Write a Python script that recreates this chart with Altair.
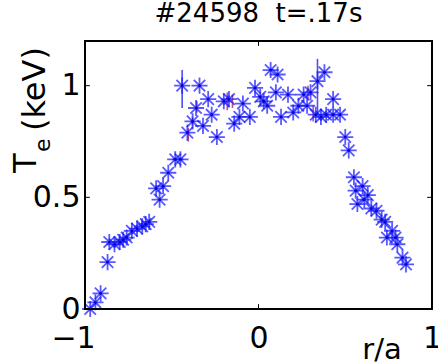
import altair as alt
import pandas as pd

# ---- data ----
r_a = [-0.97, -0.94, -0.91, -0.87, -0.86, -0.83, -0.80, -0.78, -0.76, -0.73,
       -0.70, -0.67, -0.65, -0.63, -0.59, -0.57, -0.55, -0.52, -0.48, -0.45,
       -0.44, -0.41, -0.38, -0.36, -0.34, -0.32, -0.29, -0.27, -0.24, -0.20,
       -0.17, -0.14, -0.11, -0.09, -0.05, -0.02, 0.01, 0.03, 0.05, 0.07,
       0.11, 0.10, 0.13, 0.17, 0.20, 0.23, 0.26, 0.28, 0.30, 0.34,
       0.38, 0.33, 0.36, 0.39, 0.43, 0.43, 0.47, 0.50, 0.52, 0.55,
       0.60, 0.56, 0.63, 0.57, 0.61, 0.65, 0.68, 0.71, 0.73, 0.77,
       0.74, 0.79, 0.80, 0.83, 0.85]
te_kev = [0.00, 0.03, 0.07, 0.21, 0.30, 0.29, 0.30, 0.31, 0.32, 0.35,
          0.36, 0.37, 0.38, 0.39, 0.54, 0.49, 0.55, 0.61, 0.67, 0.67,
          1.00, 0.79, 0.84, 0.90, 1.00, 0.82, 0.94, 0.87, 0.77, 0.93,
          0.94, 0.83, 0.86, 0.92, 0.86, 0.99, 0.95, 0.93, 0.91, 1.07,
          1.05, 0.97, 0.86, 0.96, 0.88, 0.91, 0.96, 0.91, 0.97, 1.02,
          1.06, 0.87, 0.86, 0.87, 0.94, 0.87, 0.87, 0.77, 0.71, 0.59,
          0.55, 0.53, 0.51, 0.47, 0.49, 0.45, 0.44, 0.40, 0.39, 0.35,
          0.32, 0.32, 0.29, 0.23, 0.20]

err_blue_x = [-0.44, 0.34]
err_blue_lo = [0.90, 0.87]
err_blue_hi = [1.07, 1.12]

err_red_x = [-0.405, -0.38, -0.355, -0.18, -0.15, 0.285, 0.315]
err_red_lo = [0.75, 0.82, 0.88, 0.89, 0.90, 0.94, 0.84]
err_red_hi = [0.81, 0.86, 0.93, 0.97, 0.96, 1.00, 0.91]

x_tick_values = [-1, 0, 1]
y_tick_values = [0, 0.5, 1]

title_text = "#24598\u00a0\u00a0t=.17s"
x_label = "r/a"

# ---- chart ----
FONT = "DejaVu Sans"
X_DOM = [-1, 1]
Y_DOM = [0, 1.2]
W, H = 347, 268

pts = pd.DataFrame({"r": r_a, "te": te_kev})
eb_blue = pd.DataFrame({"r": err_blue_x, "lo": err_blue_lo, "hi": err_blue_hi})
eb_red = pd.DataFrame({"r": err_red_x, "lo": err_red_lo, "hi": err_red_hi})

xs = alt.Scale(domain=X_DOM, nice=False, zero=False)
ys = alt.Scale(domain=Y_DOM, nice=False, zero=False)

x_axis = alt.Axis(values=x_tick_values, ticks=False, grid=False, domain=False,
                  labelFont=FONT, labelFontSize=30, labelColor="black",
                  labelPadding=14, labelFlush=False, labelBound=False,
                  labelOffset={"condition": {"test": "datum.value < 0", "value": -12}, "value": 0},
                  format="~g", title=None)
y_axis = alt.Axis(values=y_tick_values, ticks=False, grid=False, domain=False,
                  labelFont=FONT, labelFontSize=30, labelColor="black",
                  labelPadding=5, labelFlush=False, labelBound=False,
                  format="~g", title=None)

STAR = ("M-1,0L1,0M0,-1L0,1M-0.7071,-0.7071L0.7071,0.7071"
        "M-0.7071,0.7071L0.7071,-0.7071")

blue_err = alt.Chart(eb_blue).mark_rule(color="#2020ff", strokeWidth=1.6, opacity=0.8).encode(
    x=alt.X("r:Q", scale=xs, axis=x_axis),
    y=alt.Y("lo:Q", scale=ys, axis=y_axis),
    y2="hi:Q",
)
red_err = alt.Chart(eb_red).mark_rule(color="#b8306a", strokeWidth=1.6, opacity=0.85).encode(
    x=alt.X("r:Q", scale=xs),
    y=alt.Y("lo:Q", scale=ys),
    y2="hi:Q",
)
stars = alt.Chart(pts).mark_point(
    shape=STAR, size=260, filled=False, color="#1a1aff", strokeWidth=1.8, opacity=0.72
).encode(
    x=alt.X("r:Q", scale=xs),
    y=alt.Y("te:Q", scale=ys),
)
centers = alt.Chart(pts).mark_circle(size=10, color="#0000cc", opacity=0.9).encode(
    x=alt.X("r:Q", scale=xs),
    y=alt.Y("te:Q", scale=ys),
)

# axes box (frame) drawn from the scale domains
frame_h = pd.DataFrame({"y": Y_DOM, "x0": [X_DOM[0]] * 2, "x1": [X_DOM[1]] * 2})
frame_v = pd.DataFrame({"x": X_DOM, "y0": [Y_DOM[0]] * 2, "y1": [Y_DOM[1]] * 2})
frame1 = alt.Chart(frame_h).mark_rule(color="black", strokeWidth=2, strokeCap="square").encode(
    y=alt.Y("y:Q", scale=ys), x=alt.X("x0:Q", scale=xs), x2="x1:Q")
frame2 = alt.Chart(frame_v).mark_rule(color="black", strokeWidth=2, strokeCap="square").encode(
    x=alt.X("x:Q", scale=xs), y=alt.Y("y0:Q", scale=ys), y2="y1:Q")

# inward tick marks (MATLAB style)
tl_x = 0.018 * (Y_DOM[1] - Y_DOM[0])
tl_y = 0.014 * (X_DOM[1] - X_DOM[0])
xt = pd.DataFrame({"v": x_tick_values * 2,
                   "a": [Y_DOM[0]] * 3 + [Y_DOM[1]] * 3,
                   "b": [Y_DOM[0] + tl_x] * 3 + [Y_DOM[1] - tl_x] * 3})
yt = pd.DataFrame({"v": y_tick_values * 2,
                   "a": [X_DOM[0]] * 3 + [X_DOM[1]] * 3,
                   "b": [X_DOM[0] + tl_y] * 3 + [X_DOM[1] - tl_y] * 3})
xticks = alt.Chart(xt).mark_rule(color="black", strokeWidth=1).encode(
    x=alt.X("v:Q", scale=xs), y=alt.Y("a:Q", scale=ys), y2="b:Q")
yticks = alt.Chart(yt).mark_rule(color="black", strokeWidth=1).encode(
    y=alt.Y("v:Q", scale=ys), x=alt.X("a:Q", scale=xs), x2="b:Q")

one = pd.DataFrame({"k": [0]})
ylab_T = alt.Chart(one).mark_text(text="T", font=FONT, fontSize=32, angle=270,
                                  align="left", baseline="alphabetic", color="black").encode(
    x=alt.value(-49), y=alt.value(132))
ylab_e = alt.Chart(one).mark_text(text="e", font=FONT, fontSize=22, angle=270,
                                  align="left", baseline="alphabetic", color="black").encode(
    x=alt.value(-35), y=alt.value(111))
ylab_kev = alt.Chart(one).mark_text(text="(keV)", font=FONT, fontSize=32, angle=270,
                                    align="left", baseline="alphabetic", color="black").encode(
    x=alt.value(-40), y=alt.value(90))
xlab = alt.Chart(one).mark_text(text=x_label, font=FONT, fontSize=29,
                                align="center", baseline="alphabetic", color="black").encode(
    x=alt.value(297), y=alt.value(318))
title = alt.Chart(one).mark_text(text=title_text, font=FONT, fontSize=26,
                                 align="center", baseline="alphabetic", color="black").encode(
    x=alt.value(W / 2), y=alt.value(-19))

chart = alt.layer(
    blue_err, red_err, stars, centers, frame1, frame2, xticks, yticks,
    ylab_T, ylab_e, ylab_kev, xlab, title
).properties(
    width=W, height=H,
    autosize=alt.AutoSizeParams(type="none"),
    padding={"left": 85, "top": 41, "right": 6, "bottom": 55},
    background="white",
).configure_view(
    strokeWidth=0
)

chart.save("out.html", embed_options={"renderer": "svg", "actions": False})
